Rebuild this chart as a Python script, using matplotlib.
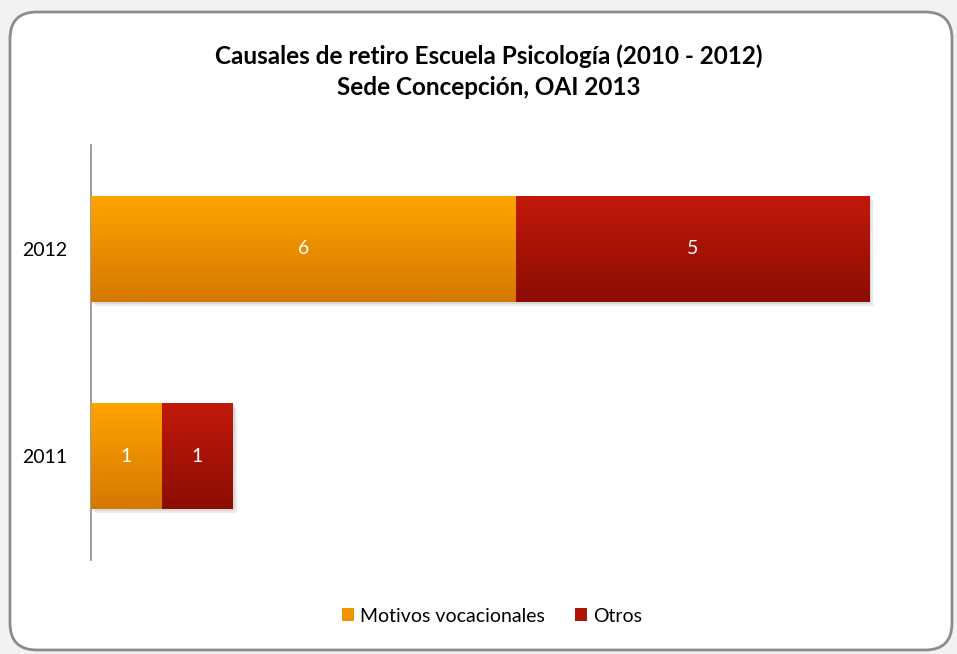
import matplotlib
matplotlib.use("Agg")
import matplotlib.pyplot as plt
import numpy as np
from matplotlib.patches import FancyBboxPatch, Patch
from matplotlib.colors import LinearSegmentedColormap
import matplotlib.patheffects as pe

years = ["2011", "2012"]
motivos = [1, 6]
otros = [1, 5]
series_names = ["Motivos vocacionales", "Otros"]
title = "Causales de retiro Escuela Psicología (2010 - 2012)\nSede Concepción, OAI 2013"

plt.rcParams['font.family'] = ['Lato', 'DejaVu Sans']

W, H = 957, 654
fig = plt.figure(figsize=(W/100, H/100), dpi=100)
fig.patch.set_facecolor('#F2F2F2')

bg = FancyBboxPatch((10/W, 4/H), 942/W, 638/H, boxstyle="round,pad=0,rounding_size=0.028",
                    transform=fig.transFigure, facecolor='white', edgecolor='#8C8C8C',
                    linewidth=2, mutation_aspect=W/H, zorder=-5)
fig.patches.append(bg)

ax = fig.add_axes([91/W, (H-560)/H, 849/W, 415/H])
ax.set_facecolor('none')
ax.set_zorder(2)

y = np.arange(len(years))
h = 0.51
cols_top = ['#FFA300', '#C2190A']
cols_bot = ['#D47800', '#8C0D03']
b1 = ax.barh(y, motivos, height=h, color=cols_top[0], label=series_names[0], zorder=2)
b2 = ax.barh(y, otros, left=motivos, height=h, color=cols_top[1], label=series_names[1], zorder=2)

for bars, ct, cb in [(b1, cols_top[0], cols_bot[0]), (b2, cols_top[1], cols_bot[1])]:
    cmap = LinearSegmentedColormap.from_list('g', [cb, ct])
    for p in bars:
        p.set_path_effects([pe.SimplePatchShadow(offset=(3, -3), shadow_rgbFace='#000000', alpha=0.08),
                            pe.SimplePatchShadow(offset=(1.5, -1.5), shadow_rgbFace='#000000', alpha=0.08),
                            pe.Normal()])
        x0, y0 = p.get_x(), p.get_y()
        w, hh = p.get_width(), p.get_height()
        grad = np.linspace(0, 1, 100).reshape(-1, 1)
        im = ax.imshow(grad, extent=[x0, x0 + w, y0, y0 + hh], origin='lower', cmap=cmap,
                       aspect='auto', zorder=3)
        im.set_clip_path(p)
        ax.text(x0 + w/2, y0 + hh/2, str(int(w)), ha='center', va='center', color='white',
                fontsize=14, zorder=4)

ax.set_xlim(0, 12)
ax.set_ylim(-0.5, 1.5)
ax.set_yticks(y)
ax.set_yticklabels(years, fontsize=14)
ax.tick_params(axis='y', length=0, pad=17)
ax.set_xticks([])
for s in ['top', 'right', 'bottom']:
    ax.spines[s].set_visible(False)
ax.spines['left'].set_color('#8C8C8C')
ax.spines['left'].set_linewidth(1.2)

fig.text(489/W, 1 - 72/H, title, ha='center', va='center', fontsize=17.5, fontweight='bold',
         linespacing=1.4)

handles = [Patch(facecolor='#F09400'), Patch(facecolor='#AE1408')]
fig.legend(handles, series_names, loc='center', bbox_to_anchor=(492/W, 1 - 616/H), ncol=2,
           frameon=False, fontsize=14, handlelength=0.6, handleheight=0.6, handletextpad=0.3,
           columnspacing=1.6)

fig.savefig('out.png', dpi=100, facecolor=fig.get_facecolor())
